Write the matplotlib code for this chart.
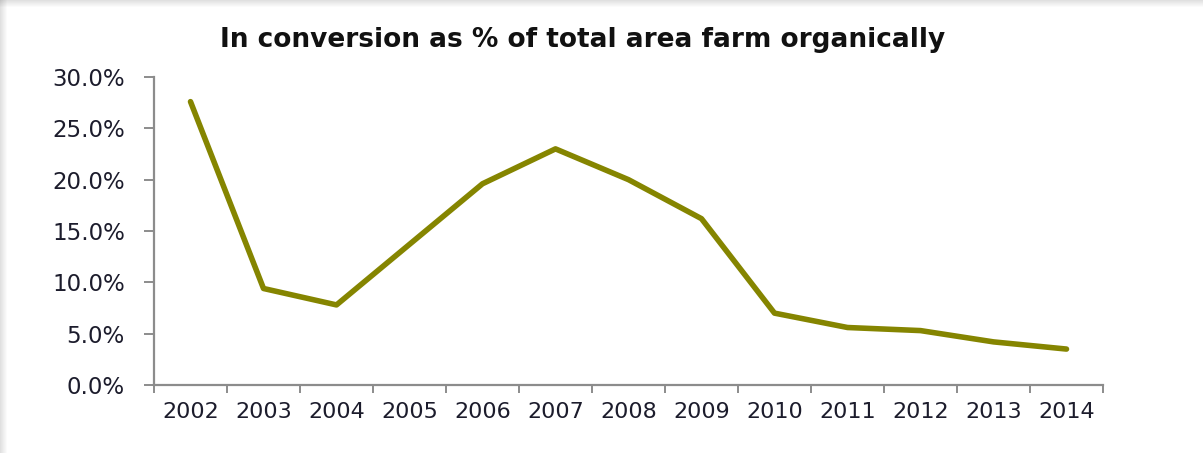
import matplotlib.pyplot as plt
from matplotlib.patches import Rectangle
from matplotlib.ticker import FixedLocator, FuncFormatter

years = ['2002', '2003', '2004', '2005', '2006', '2007', '2008',
         '2009', '2010', '2011', '2012', '2013', '2014']
pct_in_conversion = [27.6, 9.4, 7.8, 13.7, 19.6, 23.0, 20.0,
                     16.2, 7.0, 5.6, 5.3, 4.2, 3.5]

W, H = 1203, 453
fig = plt.figure(figsize=(W / 100, H / 100), dpi=100)
fig.patch.set_facecolor('white')

# soft drop shadow along the top and left edges of the card
for i in range(7):
    a = 0.12 * (1 - i / 7)
    fig.patches.append(Rectangle((0, 1 - (i + 1) / H), 1, 1 / H, transform=fig.transFigure,
                                 color='black', alpha=a, lw=0, zorder=0))
    fig.patches.append(Rectangle((i / W, 0), 1 / W, 1, transform=fig.transFigure,
                                 color='black', alpha=a, lw=0, zorder=0))

ax = fig.add_axes([154 / W, 1 - 385 / H, (1103 - 154) / W, (385 - 77) / H])
x = list(range(len(years)))
ax.plot(x, pct_in_conversion, color='#858500', lw=4.0, solid_joinstyle='round',
        solid_capstyle='round')

ax.set_xlim(-0.5, len(years) - 0.5)
ax.set_ylim(0, 30)
ax.yaxis.set_major_locator(FixedLocator([0, 5, 10, 15, 20, 25, 30]))
ax.yaxis.set_major_formatter(FuncFormatter(lambda v, p: f'{v:.1f}%'))

# category axis: ticks sit between the years, labels at the centres
ax.xaxis.set_major_locator(FixedLocator([i - 0.5 for i in range(len(years) + 1)]))
ax.xaxis.set_major_formatter(FuncFormatter(lambda v, p: ''))
ax.xaxis.set_minor_locator(FixedLocator(x))
ax.set_xticklabels(years, minor=True)

for s in ['top', 'right']:
    ax.spines[s].set_visible(False)
for s in ['left', 'bottom']:
    ax.spines[s].set_color('#8c8c8c')
    ax.spines[s].set_linewidth(1.6)

ax.tick_params(axis='y', which='major', direction='out', length=7, width=1.4,
               color='#8c8c8c', labelsize=16.5, labelcolor='#1c1c2c', pad=14)
ax.tick_params(axis='x', which='major', direction='out', length=6, width=1.4,
               color='#8c8c8c')
ax.tick_params(axis='x', which='minor', length=0, labelsize=16,
               labelcolor='#1c1c2c', pad=12)

fig.text(583 / W, 1 - 40 / H, 'In conversion as % of total area farm organically',
         ha='center', va='center', fontsize=19, fontweight='bold', color='#111111')

fig.savefig('out.png', dpi=100, facecolor='white')
